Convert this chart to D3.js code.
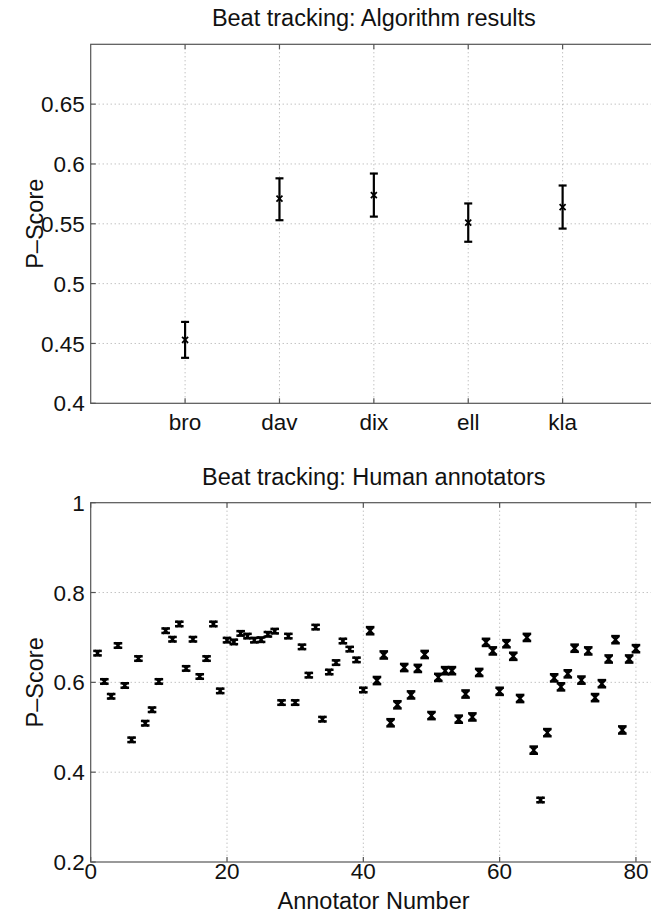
<!DOCTYPE html>
<html>
<head>
<meta charset="utf-8">
<script src="https://cdn.jsdelivr.net/npm/d3@7/dist/d3.min.js"></script>
<style>
  body { margin: 0; background: #fff; }
  svg { display: block; font-family: "Liberation Sans", Arial, Helvetica, sans-serif; }
  .grid line { stroke: #a8a8a8; stroke-width: 1; stroke-dasharray: 1,3; }
  .frame { fill: none; stroke: #555; stroke-width: 1.2; }
  .tick-mark { stroke: #555; stroke-width: 1.2; }
  .err { stroke: #000; fill: none; }
  .lbl { fill: #111; }
</style>
</head>
<body>
<svg id="chart" width="651" height="914"></svg>
<script>
// 上段：アルゴリズム別の結果
const algoNames = ["bro", "dav", "dix", "ell", "kla"];
const algoScore = [0.453, 0.571, 0.574, 0.551, 0.564];
const algoLower = [0.438, 0.553, 0.556, 0.535, 0.546];
const algoUpper = [0.468, 0.588, 0.592, 0.567, 0.582];
const algoYTicks = [0.4, 0.45, 0.5, 0.55, 0.6, 0.65];

// 下段：アノテーター別（1〜80）
const annotatorScore = [
  0.665, 0.602, 0.569, 0.682, 0.593, 0.472, 0.653, 0.509, 0.539, 0.602,
  0.715, 0.696, 0.730, 0.631, 0.696, 0.613, 0.653, 0.730, 0.581, 0.694,
  0.690, 0.709, 0.703, 0.694, 0.695, 0.707, 0.714, 0.555, 0.703, 0.555,
  0.679, 0.616, 0.723, 0.518, 0.623, 0.644, 0.692, 0.674, 0.650, 0.583,
  0.715, 0.604, 0.661, 0.510, 0.550, 0.633, 0.572, 0.631, 0.662, 0.526,
  0.611, 0.626, 0.626, 0.518, 0.574, 0.523, 0.622, 0.689, 0.670, 0.580,
  0.686, 0.658, 0.564, 0.700, 0.449, 0.338, 0.488, 0.610, 0.590, 0.619,
  0.676, 0.605, 0.670, 0.566, 0.597, 0.652, 0.695, 0.494, 0.652, 0.675
];
const annotatorErr = [
  0.005, 0.005, 0.005, 0.005, 0.005, 0.005, 0.005, 0.005, 0.005, 0.005,
  0.005, 0.005, 0.005, 0.005, 0.005, 0.005, 0.005, 0.005, 0.005, 0.005,
  0.005, 0.005, 0.005, 0.005, 0.005, 0.005, 0.005, 0.005, 0.005, 0.005,
  0.005, 0.005, 0.005, 0.005, 0.005, 0.005, 0.005, 0.005, 0.005, 0.005,
  0.008, 0.008, 0.008, 0.008, 0.008, 0.008, 0.008, 0.008, 0.008, 0.008,
  0.008, 0.008, 0.008, 0.008, 0.008, 0.008, 0.008, 0.008, 0.008, 0.008,
  0.008, 0.008, 0.008, 0.008, 0.008, 0.005, 0.008, 0.008, 0.008, 0.008,
  0.008, 0.008, 0.008, 0.008, 0.008, 0.008, 0.008, 0.008, 0.008, 0.008
];
const annotatorXTicks = [0, 20, 40, 60, 80];
const annotatorYTicks = [0.2, 0.4, 0.6, 0.8, 1];

const svg = d3.select("#chart");
const left = 90.7, right = 657;   // 右端は画像の外にはみ出す
const tickFont = 22.5, labelFont = 23.5;

// 枠・グリッド・目盛りをまとめて描く
function drawPanel(g, x, y, xTicks, yTicks, xLabel, xLabelGap, yLabel, title) {
  const [y0, y1] = y.range();   // y0: 下端, y1: 上端

  const grid = g.append("g").attr("class", "grid");
  grid.selectAll(".gx").data(xTicks.filter(d => x(d) > left + 1))
    .join("line").attr("class", "gx")
    .attr("x1", d => x(d)).attr("x2", d => x(d))
    .attr("y1", y1).attr("y2", y0);
  grid.selectAll(".gy").data(yTicks.filter(d => y(d) < y0 - 1 && y(d) > y1 + 1))
    .join("line").attr("class", "gy")
    .attr("x1", left).attr("x2", right)
    .attr("y1", d => y(d)).attr("y2", d => y(d));

  return function finish() {
    g.append("rect").attr("class", "frame")
      .attr("x", left).attr("y", y1)
      .attr("width", right - left).attr("height", y0 - y1);

    // 内向きの目盛り
    g.selectAll(".tyl").data(yTicks).join("line").attr("class", "tick-mark")
      .attr("x1", left).attr("x2", left + 5)
      .attr("y1", d => y(d)).attr("y2", d => y(d));
    g.selectAll(".txb").data(xTicks).join("line").attr("class", "tick-mark txb")
      .attr("x1", d => x(d)).attr("x2", d => x(d))
      .attr("y1", y0).attr("y2", y0 - 5);
    g.selectAll(".txt").data(xTicks).join("line").attr("class", "tick-mark txt")
      .attr("x1", d => x(d)).attr("x2", d => x(d))
      .attr("y1", y1).attr("y2", y1 + 5);

    g.selectAll(".ylab").data(yTicks).join("text").attr("class", "lbl ylab")
      .attr("x", left - 6).attr("y", d => y(d)).attr("dy", "0.36em")
      .attr("text-anchor", "end").attr("font-size", tickFont)
      .text(d => String(d));
    g.selectAll(".xlab").data(xTicks).join("text").attr("class", "lbl xlab")
      .attr("x", d => x(d)).attr("y", y0 + xLabelGap)
      .attr("text-anchor", "middle").attr("font-size", tickFont)
      .text(xLabel);

    g.append("text").attr("class", "lbl")
      .attr("transform", `translate(43,${(y0 + y1) / 2}) rotate(-90)`)
      .attr("text-anchor", "middle").attr("font-size", labelFont)
      .text(yLabel);
    g.append("text").attr("class", "lbl")
      .attr("x", (left + right) / 2).attr("y", y1 - 18)
      .attr("text-anchor", "middle").attr("font-size", labelFont)
      .text(title);
  };
}

// エラーバー（縦線＋キャップ＋×印）
function drawErrorBars(g, pts, capW, markR, width) {
  const eb = g.selectAll(".eb").data(pts).join("g").attr("class", "err")
    .attr("stroke-width", width);
  eb.append("line")
    .attr("x1", d => d.x).attr("x2", d => d.x)
    .attr("y1", d => d.lo).attr("y2", d => d.hi);
  eb.append("line")
    .attr("x1", d => d.x - capW).attr("x2", d => d.x + capW)
    .attr("y1", d => d.lo).attr("y2", d => d.lo);
  eb.append("line")
    .attr("x1", d => d.x - capW).attr("x2", d => d.x + capW)
    .attr("y1", d => d.hi).attr("y2", d => d.hi);
  eb.append("path")
    .attr("stroke-width", width * 0.8)
    .attr("d", d => `M${d.x - markR},${d.y - markR}L${d.x + markR},${d.y + markR}` +
                    `M${d.x - markR},${d.y + markR}L${d.x + markR},${d.y - markR}`);
}

// ---- 上段 ----
const xTop = d3.scaleLinear().domain([0, 6]).range([left, right]);
const yTop = d3.scaleLinear().domain([0.4, 0.7]).range([403.3, 44.3]);
const gTop = svg.append("g");
const finishTop = drawPanel(gTop, xTop, yTop, [1, 2, 3, 4, 5], algoYTicks,
  d => algoNames[d - 1], 27, "P\u2013Score", "Beat tracking: Algorithm results");
drawErrorBars(gTop, algoNames.map((n, i) => ({
  x: xTop(i + 1), y: yTop(algoScore[i]), lo: yTop(algoLower[i]), hi: yTop(algoUpper[i])
})), 4, 3, 2.2);
finishTop();

// ---- 下段 ----
const xBot = d3.scaleLinear().domain([0, 83]).range([left, 656.4]);
const yBot = d3.scaleLinear().domain([0.2, 1]).range([862, 502.7]);
const gBot = svg.append("g");
const finishBot = drawPanel(gBot, xBot, yBot, annotatorXTicks, annotatorYTicks,
  d => d, 17, "P\u2013Score", "Beat tracking: Human annotators");
drawErrorBars(gBot, annotatorScore.map((v, i) => ({
  x: xBot(i + 1), y: yBot(v),
  lo: yBot(v - annotatorErr[i]), hi: yBot(v + annotatorErr[i])
})), 4.3, 3, 2.5);
finishBot();

gBot.append("text").attr("class", "lbl")
  .attr("x", (left + 656.4) / 2).attr("y", 909)
  .attr("text-anchor", "middle").attr("font-size", labelFont)
  .text("Annotator Number");
</script>
</body>
</html>
